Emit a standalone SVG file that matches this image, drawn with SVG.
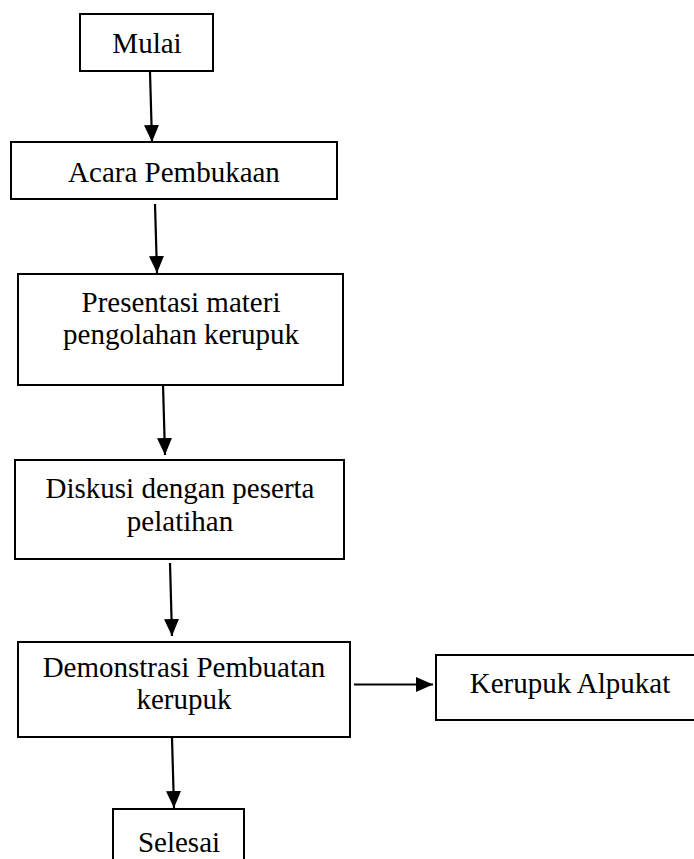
<svg xmlns="http://www.w3.org/2000/svg" width="694" height="859" viewBox="0 0 694 859">
  <style>
    .box { fill: #ffffff; stroke: #000000; stroke-width: 2; }
    .lbl { font-family: "Liberation Serif", "Times New Roman", serif; font-size: 29px; fill: #000000; text-anchor: middle; }
    .conn { stroke: #000000; stroke-width: 2.2; fill: none; marker-end: url(#arrow); }
  </style>
  <defs>
    <marker id="arrow" markerUnits="userSpaceOnUse" markerWidth="17" markerHeight="16" viewBox="0 0 17 16" refX="17" refY="8" orient="auto">
      <path d="M0,0.5 L17,8 L0,15.5 z" fill="#000000"/>
    </marker>
  </defs>
  <rect width="694" height="859" fill="#ffffff"/>

  <g id="mulai">
    <rect class="box" x="80" y="14" width="133" height="57"/>
    <text class="lbl" x="147" y="53">Mulai</text>
  </g>
  <g id="acara-pembukaan">
    <rect class="box" x="11" y="142" width="326" height="57"/>
    <text class="lbl" x="174" y="182">Acara Pembukaan</text>
  </g>
  <g id="presentasi">
    <rect class="box" x="18" y="274" width="325" height="111"/>
    <text class="lbl" x="181" y="312">Presentasi materi</text>
    <text class="lbl" x="181" y="344">pengolahan kerupuk</text>
  </g>
  <g id="diskusi">
    <rect class="box" x="15" y="460" width="329" height="99"/>
    <text class="lbl" x="180" y="498">Diskusi dengan peserta</text>
    <text class="lbl" x="180" y="531">pelatihan</text>
  </g>
  <g id="demonstrasi">
    <rect class="box" x="18" y="642" width="332" height="95"/>
    <text class="lbl" x="184" y="677">Demonstrasi Pembuatan</text>
    <text class="lbl" x="184" y="709">kerupuk</text>
  </g>
  <g id="kerupuk-alpukat">
    <rect class="box" x="436" y="655" width="270" height="65"/>
    <text class="lbl" x="570" y="693">Kerupuk Alpukat</text>
  </g>
  <g id="selesai">
    <rect class="box" x="113" y="809" width="131" height="70"/>
    <text class="lbl" x="179" y="852">Selesai</text>
  </g>

  <g id="connectors">
    <line class="conn" x1="150" y1="72" x2="152" y2="142"/>
    <line class="conn" x1="155" y1="204" x2="157" y2="273"/>
    <line class="conn" x1="163" y1="384" x2="165" y2="455"/>
    <line class="conn" x1="170" y1="563" x2="172" y2="636"/>
    <line class="conn" x1="172" y1="738" x2="174" y2="808"/>
    <line class="conn" x1="354" y1="684.5" x2="433" y2="684.5"/>
  </g>
</svg>
